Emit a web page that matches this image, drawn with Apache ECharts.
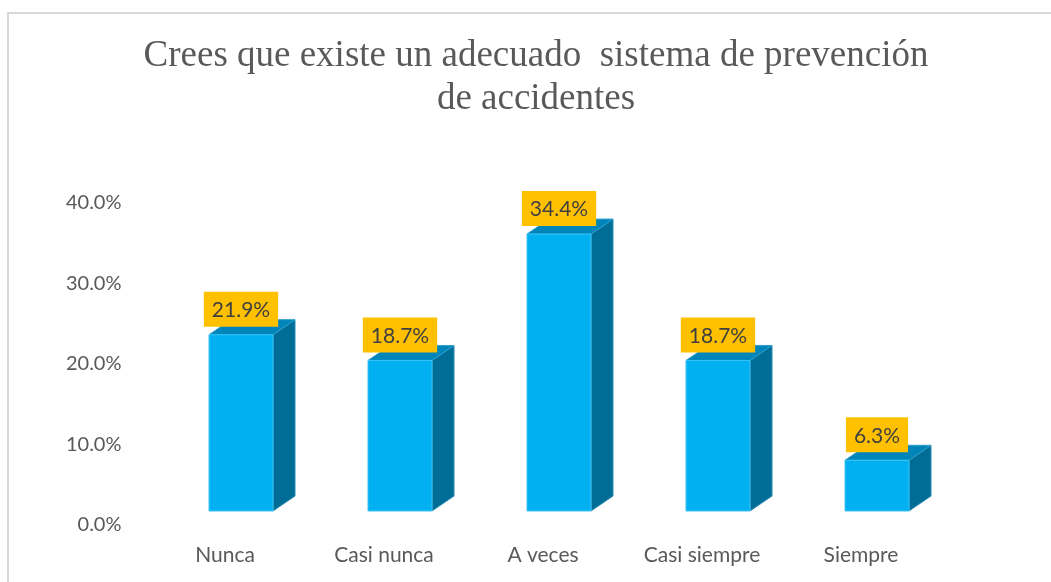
<!DOCTYPE html>
<html>
<head>
<meta charset="utf-8">
<script src="https://cdn.jsdelivr.net/npm/echarts@6/dist/echarts.min.js"></script>
<style>
  html, body { margin: 0; padding: 0; background: #fff; }
  #chart { width: 1051px; height: 582px; }
</style>
</head>
<body>
<div id="chart"></div>
<script>
const categories = ['Nunca', 'Casi nunca', 'A veces', 'Casi siempre', 'Siempre']
const percentages = [21.9, 18.7, 34.4, 18.7, 6.3]
const yTicks = { min: 0, max: 40, interval: 10 }

const chart = echarts.init(document.getElementById('chart'))

// 3D-looking bar: front face, top face, side face, plus a gold value label
const renderBar = (params, api) => {
  const i = api.value(0)
  const v = api.value(1)
  const base = api.coord([i, 0])
  const top = api.coord([i, v])
  const lift = 14
  const left = base[0] - 16
  const right = base[0] + 48
  const b = base[1] - lift
  const t = top[1] - lift
  const dx = 22
  const dy = 15
  return {
    type: 'group',
    children: [
      {
        type: 'polygon',
        shape: { points: [[right, t], [right + dx, t - dy], [right + dx, b - dy], [right, b]] },
        style: { fill: '#006D96', stroke: '#2A8DB5', lineWidth: 1 }
      },
      {
        type: 'polygon',
        shape: { points: [[left, t], [right, t], [right + dx, t - dy], [left + dx, t - dy]] },
        style: { fill: '#0085BA', stroke: '#2A9DCB', lineWidth: 1 }
      },
      {
        type: 'rect',
        shape: { x: left, y: t, width: right - left, height: b - t },
        style: { fill: '#00B0F0', stroke: '#3CC3F5', lineWidth: 1 }
      },
      {
        type: 'text',
        x: (left + right) / 2,
        y: t - 8,
        style: {
          text: v.toFixed(1) + '%',
          align: 'center',
          verticalAlign: 'bottom',
          font: '21px Lato',
          fill: '#404040',
          backgroundColor: '#FFC000',
          padding: [8, 8, 6, 8]
        }
      }
    ]
  }
}

const option = {
  animation: false,
  graphic: [
    {
      type: 'rect',
      shape: { x: 8, y: 13, width: 1200, height: 800 },
      style: { fill: 'none', stroke: '#D9D9D9', lineWidth: 2 },
      silent: true
    },
    {
      type: 'text',
      x: 536,
      y: 35,
      style: {
        text: 'Crees que existe un adecuado  sistema de prevención\nde accidentes',
        align: 'center',
        font: '37px "Liberation Serif"',
        lineHeight: 43,
        fill: '#595959'
      }
    }
  ],
  grid: { left: 145.5, right: 110.5, top: 203, bottom: 57 },
  xAxis: {
    type: 'category',
    data: categories,
    axisLine: { show: false },
    axisTick: { show: false },
    axisLabel: { color: '#595959', fontFamily: 'Lato', fontSize: 21, margin: 20 }
  },
  yAxis: {
    type: 'value',
    min: yTicks.min,
    max: yTicks.max,
    interval: yTicks.interval,
    splitLine: { show: false },
    axisLine: { show: false },
    axisTick: { show: false },
    axisLabel: {
      color: '#595959',
      fontFamily: 'Lato',
      fontSize: 20,
      margin: 24,
      formatter: v => v.toFixed(1) + '%'
    }
  },
  series: [
    {
      type: 'custom',
      renderItem: renderBar,
      clip: false,
      data: percentages.map((p, i) => [i, p])
    }
  ]
}

chart.setOption(option)
</script>
</body>
</html>
